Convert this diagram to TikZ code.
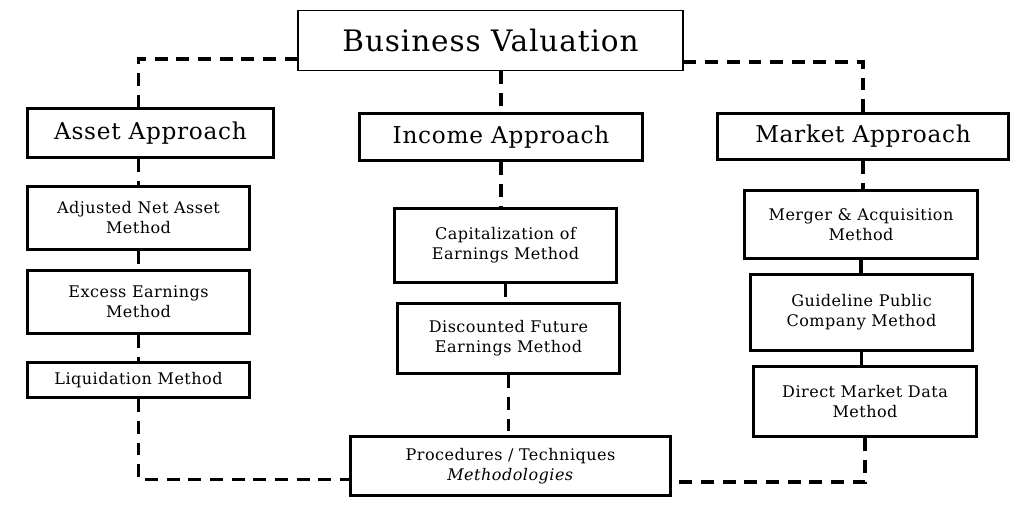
\documentclass[tikz,border=0pt]{standalone}
\usepackage{fontspec}
\setmainfont{DejaVu Serif}[LetterSpace=3]
\usepackage{tikz}

\begin{document}
\begin{tikzpicture}[x=0.025cm, y=-0.025cm,
        box/.style={draw, line width=2.4pt, inner sep=0pt, align=center, font=\fontsize{11.4}{14.2}\selectfont},
        head/.style={box, font=\fontsize{16.5}{20}\selectfont},
        link/.style={line width=2.4pt, dash pattern=on 9.2pt off 6.2pt}]
            \useasboundingbox (0,0) rectangle (1024,527);

            \node[draw, line width=1.4pt, inner sep=0pt, minimum width=9.6cm, minimum height=1.5cm, font=\fontsize{21}{24}\selectfont] at (490.5, 40.5) (bv) {Business Valuation};

            \node[head, minimum width=6.15cm, minimum height=1.225cm] at (150.5, 133) (asset) {Asset Approach};
            \node[head, minimum width=7.075cm, minimum height=1.175cm] at (501, 137) (inc) {Income Approach};
            \node[head, minimum width=7.275cm, minimum height=1.15cm] at (863, 136.5) (mkt) {Market Approach};

            \node[box, minimum width=5.55cm, minimum height=1.575cm] at (138.5, 218) (adj) {Adjusted Net Asset\\Method};
            \node[box, minimum width=5.55cm, minimum height=1.575cm] at (138.5, 302) (exc) {Excess Earnings\\Method};
            \node[box, minimum width=5.55cm, minimum height=0.875cm] at (138.5, 380) (liq) {Liquidation Method};

            \node[box, minimum width=5.55cm, minimum height=1.85cm] at (505.5, 245.5) (cap) {Capitalization of\\Earnings Method};
            \node[box, minimum width=5.55cm, minimum height=1.75cm] at (508.5, 338.5) (disc) {Discounted Future\\Earnings Method};
            \node[box, minimum width=8cm, minimum height=1.475cm] at (510.5, 466) (proc) {Procedures / Techniques\\\textit{Methodologies}};

            \node[box, minimum width=5.825cm, minimum height=1.7cm] at (861, 224.5) (mrg) {Merger \& Acquisition\\Method};
            \node[box, minimum width=5.55cm, minimum height=1.9cm] at (861.5, 312.5) (gpc) {Guideline Public\\Company Method};
            \node[box, minimum width=5.575cm, minimum height=1.75cm] at (865, 401.5) (dmd) {Direct Market Data\\Method};

            \draw [link] ([yshift=-0.46cm]bv.west) -| (adj.north |- asset.north);
            \draw [link] (bv.south -| inc.north) -- (inc.north);
            \draw [link] ([yshift=-0.54cm]bv.east) -| (mkt.north);

            \draw [link] (adj.north |- asset.south) -- (adj.north);
            \draw [link] (adj.south) -- (exc.north);
            \draw [link] (exc.south) -- (liq.north);
            \draw [link] (liq.south) |- ([yshift=-0.33cm]proc.west);

            \draw [link] (inc.south) -- (inc.south |- cap.north);
            \draw [link] (cap.south) -- (cap.south |- disc.north);
            \draw [link] (disc.south) -- (disc.south |- proc.north);

            \draw [link] (mkt.south) -- (mkt.south |- mrg.north);
            \draw [link] (mrg.south) -- (mrg.south |- gpc.north);
            \draw [link] (gpc.south) -- (gpc.south |- dmd.north);
            \draw [link] (dmd.south) |- ([yshift=-0.4cm]proc.east);
        \end{tikzpicture}
\end{document}
